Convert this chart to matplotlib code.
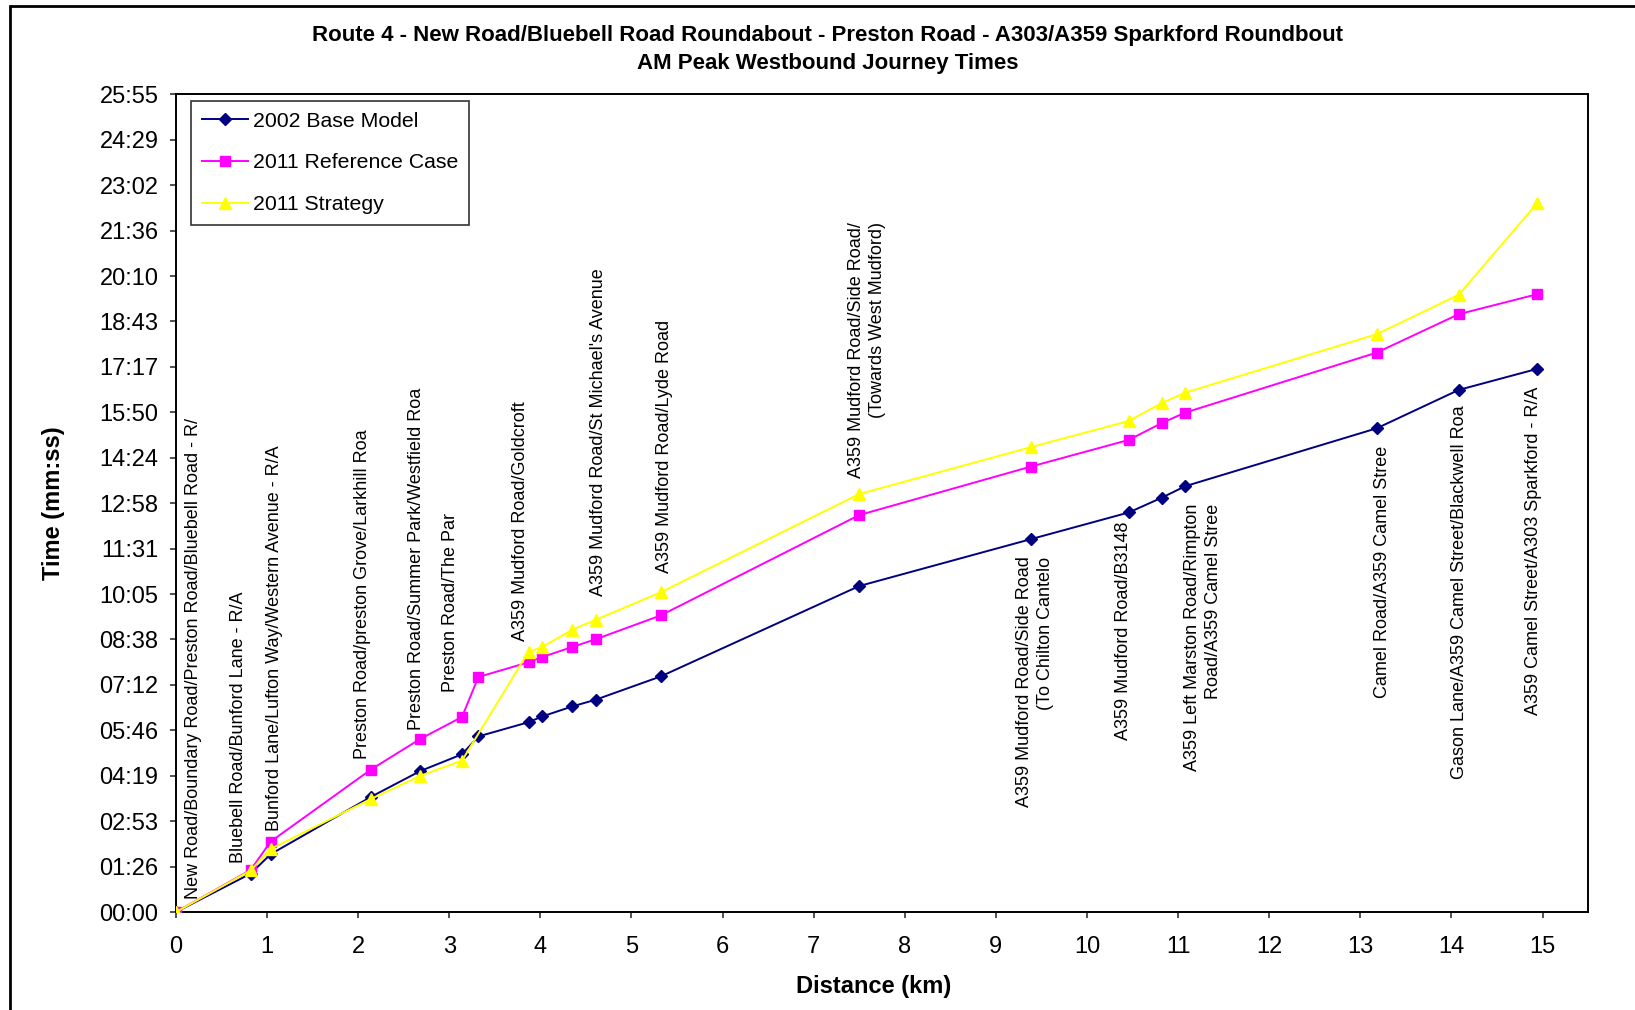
import matplotlib
matplotlib.use('Agg')
import matplotlib.pyplot as plt
from matplotlib.patches import Rectangle
from matplotlib.ticker import FixedLocator, FuncFormatter

plt.rcParams['font.family'] = ['Liberation Sans', 'DejaVu Sans']

# journey times in seconds, distance in km
distance = [0, 0.82, 1.04, 2.14, 2.68, 3.14, 3.32, 3.87, 4.02, 4.35, 4.61, 5.32,
            7.50, 9.38, 10.46, 10.82, 11.08, 13.18, 14.08, 14.94]
base_model = [0, 73, 110, 219, 268, 300, 334, 361, 372, 391, 404, 448,
              620, 709, 760, 788, 810, 920, 993, 1033]
reference_case = [0, 80, 134, 271, 329, 371, 447, 475, 485, 504, 519, 564,
                  755, 847, 898, 930, 950, 1064, 1137, 1175]
# strategy has no point at 3.32 km
distance_strategy = [0, 0.82, 1.04, 2.14, 2.68, 3.14, 3.87, 4.02, 4.35, 4.61, 5.32,
                     7.50, 9.38, 10.46, 10.82, 11.08, 13.18, 14.08, 14.94]
strategy = [0, 79, 120, 215, 259, 288, 495, 504, 537, 556, 608,
            795, 884, 934, 968, 988, 1099, 1174, 1348]

# junction labels (text as shown, clipped by the original chart)
labels_above = [
    'New Road/Boundary Road/Preston Road/Bluebell Road - R/',
    'Bluebell Road/Bunford Lane - R/A',
    'Bunford Lane/Lufton Way/Western Avenue - R/A',
    'Preston Road/preston Grove/Larkhill Roa',
    'Preston Road/Summer Park/Westfield Roa',
    'Preston Road/The Par',
    'A359 Mudford Road/Goldcroft',
    "A359 Mudford Road/St Michael's Avenue",
    'A359 Mudford Road/Lyde Road',
    'A359 Mudford Road/Side Road/\n(Towards West Mudford)',
]
above_x = [0.19, 0.69, 1.08, 2.05, 2.64, 3.01, 3.78, 4.64, 5.36, 7.59]
above_y = [25, 94, 155, 292, 347, 419, 516, 602, 645, 826]

labels_below = [
    'A359 Mudford Road/Side Road\n(To Chilton Cantelo',
    'A359 Mudford Road/B3148',
    'A359 Left Marston Road/Rimpton\nRoad/A359 Camel Stree',
    'Camel Road/A359 Camel Stree',
    'Gason Lane/A359 Camel Street/Blackwell Roa',
    'A359 Camel Street/A303 Sparkford - R/A',
]
below_x = [9.43, 10.40, 11.27, 13.24, 14.09, 14.90]
below_y = [676, 743, 777, 886, 964, 1000]

TICK_STEP = 86.4  # 0.001 day


def mmss(v, pos=None):
    s = int(round(v))
    return '%02d:%02d' % (s // 60, s % 60)


fig = plt.figure(figsize=(16.35, 10.1), dpi=100)
ax = fig.add_axes([0.1076, 0.097, 0.8637, 0.8096])

ax.plot(distance, base_model, color='#000080', marker='D', markersize=6.5, linewidth=1.4,
        label='2002 Base Model', zorder=3)
ax.plot(distance, reference_case, color='#ff00ff', marker='s', markersize=7, linewidth=1.4,
        label='2011 Reference Case', zorder=4)
ax.plot(distance_strategy, strategy, color='#ffff00', marker='^', markersize=9, linewidth=1.4,
        label='2011 Strategy', zorder=5)

for txt, x, y in zip(labels_above, above_x, above_y):
    ax.text(x, y, txt, rotation=90, ha='center', va='bottom', fontsize=13,
            multialignment='right', linespacing=1.3, zorder=6)
for txt, x, y in zip(labels_below, below_x, below_y):
    ax.text(x, y, txt, rotation=90, ha='center', va='top', fontsize=13,
            multialignment='right', linespacing=1.3, zorder=6)

ax.set_xlim(0, 15.5)
ax.set_ylim(0, 18 * TICK_STEP)
ax.set_xticks(range(0, 16))
ax.yaxis.set_major_locator(FixedLocator([i * TICK_STEP for i in range(19)]))
ax.yaxis.set_major_formatter(FuncFormatter(mmss))
ax.tick_params(axis='both', labelsize=17, length=4.5, width=1.2, direction='out', color='#333333')
ax.tick_params(axis='x', pad=13)
ax.tick_params(axis='y', pad=8)
for sp in ax.spines.values():
    sp.set_linewidth(1.4)
    sp.set_color('black')

ax.set_xlabel('Distance (km)', fontsize=17, fontweight='bold', labelpad=12)
ax.xaxis.label.set_x(0.494)
ax.set_ylabel('Time (mm:ss)', fontsize=17, fontweight='bold', labelpad=25)

fig.text(0.506, 0.965, 'Route 4 - New Road/Bluebell Road Roundabout - Preston Road - A303/A359 Sparkford Roundbout',
         ha='center', va='center', fontsize=16, fontweight='bold')
fig.text(0.506, 0.937, 'AM Peak Westbound Journey Times',
         ha='center', va='center', fontsize=16, fontweight='bold')

leg = ax.legend(loc='upper left', bbox_to_anchor=(0.0106, 0.992), fontsize=15.3,
                fancybox=False, edgecolor='#333333', framealpha=1, handlelength=2.2,
                labelspacing=1.08, borderpad=0.5, handletextpad=0.2, borderaxespad=0)
leg.get_frame().set_linewidth(1.2)

# outer chart border (runs off the right and bottom of the picture)
fig.patches.append(Rectangle((10 / 1635, -0.05), 1.1, 1 - 6 / 1010 + 0.05,
                             transform=fig.transFigure, fill=False, edgecolor='black',
                             linewidth=2, zorder=10))

fig.savefig('out.png', dpi=100)
